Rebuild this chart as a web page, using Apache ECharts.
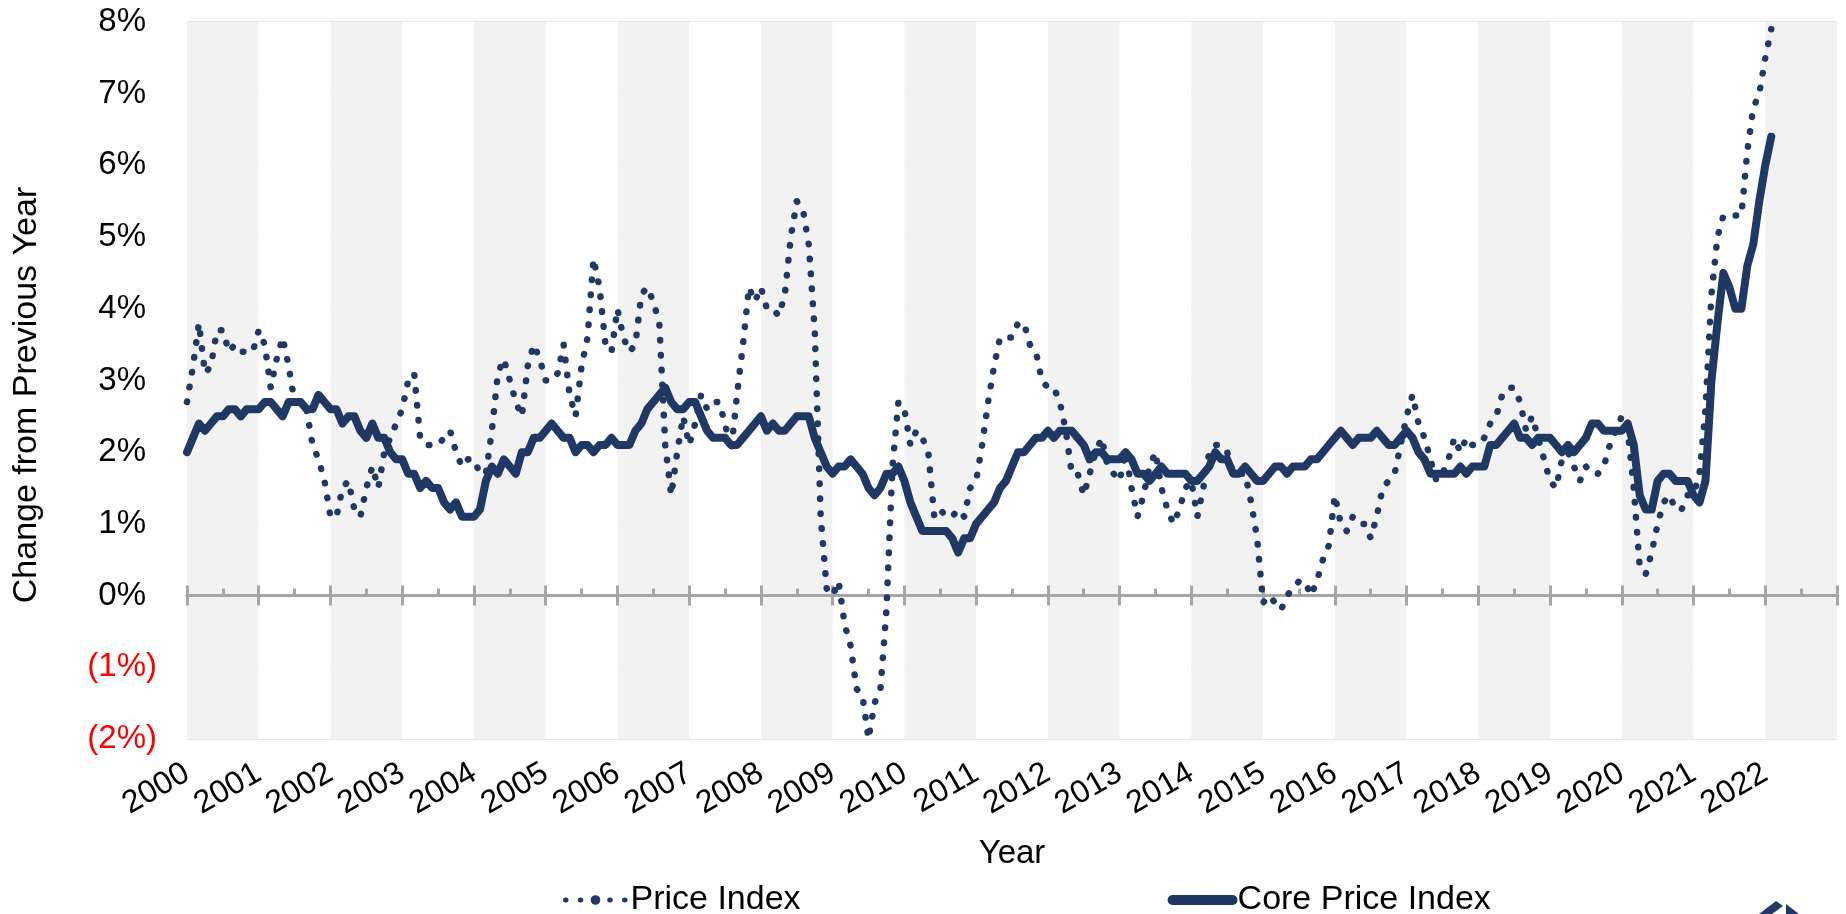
<!DOCTYPE html>
<html>
<head>
<meta charset="utf-8">
<title>Price Index vs Core Price Index</title>
<script src="https://cdn.jsdelivr.net/npm/echarts@6/dist/echarts.min.js"></script>
<style>
  html, body { margin: 0; padding: 0; background: #fff; }
  #chart { width: 1846px; height: 914px; }
</style>
</head>
<body>
<div id="chart"></div>
<script>
// monthly, Jan 2000 .. Feb 2022, % change from previous year
const startYear = 2000
const yearTicks = [2000, 2023]
const yTicks = [-2, 8]

const priceIndex = [
  2.7, 3.2, 3.8, 3.1, 3.2, 3.7, 3.7, 3.4, 3.5, 3.4, 3.4, 3.4, // 2000
  3.7, 3.5, 2.9, 3.3, 3.6, 3.2, 2.7, 2.7, 2.6, 2.1, 1.9, 1.6, // 2001
  1.1, 1.1, 1.5, 1.6, 1.2, 1.1, 1.5, 1.8, 1.5, 2.0, 2.2, 2.4, // 2002
  2.6, 3.0, 3.1, 2.2, 2.1, 2.1, 2.1, 2.2, 2.3, 2.0, 1.8, 1.9, // 2003
  1.9, 1.7, 1.7, 2.3, 3.1, 3.3, 3.0, 2.7, 2.5, 3.2, 3.5, 3.3, // 2004
  3.0, 3.0, 3.1, 3.5, 2.8, 2.5, 3.2, 3.6, 4.7, 4.3, 3.5, 3.4, // 2005
  4.0, 3.6, 3.4, 3.5, 4.2, 4.3, 4.1, 3.8, 2.1, 1.4, 2.0, 2.5, // 2006
  2.1, 2.4, 2.8, 2.6, 2.7, 2.7, 2.4, 2.0, 2.8, 3.5, 4.3, 4.1, // 2007
  4.3, 4.0, 4.0, 3.9, 4.2, 5.0, 5.5, 5.4, 4.9, 3.7, 1.1, 0.1, // 2008
  0.0, 0.2, -0.4, -0.7, -1.3, -1.4, -2.0, -1.5, -1.3, -0.2, 1.8, 2.7, // 2009
  2.6, 2.1, 2.3, 2.2, 2.0, 1.1, 1.2, 1.1, 1.1, 1.2, 1.1, 1.5, // 2010
  1.6, 2.1, 2.7, 3.2, 3.6, 3.6, 3.6, 3.8, 3.8, 3.5, 3.4, 3.0, // 2011
  2.9, 2.9, 2.7, 2.3, 1.7, 1.7, 1.4, 1.7, 2.0, 2.2, 1.8, 1.7, // 2012
  1.6, 2.0, 1.5, 1.1, 1.4, 1.8, 2.0, 1.5, 1.2, 1.0, 1.2, 1.5, // 2013
  1.6, 1.1, 1.5, 2.0, 2.1, 2.1, 2.0, 1.7, 1.7, 1.7, 1.3, 0.8, // 2014
  -0.1, 0.0, -0.1, -0.2, 0.0, 0.1, 0.2, 0.2, 0.0, 0.2, 0.5, 0.7, // 2015
  1.4, 1.0, 0.9, 1.1, 1.0, 1.0, 0.8, 1.1, 1.5, 1.6, 1.7, 2.1, // 2016
  2.5, 2.8, 2.4, 2.2, 1.9, 1.6, 1.7, 1.9, 2.2, 2.0, 2.2, 2.1, // 2017
  2.1, 2.2, 2.4, 2.5, 2.8, 2.9, 2.9, 2.7, 2.3, 2.5, 2.2, 1.9, // 2018
  1.6, 1.5, 1.9, 2.0, 1.8, 1.6, 1.8, 1.7, 1.7, 1.8, 2.1, 2.3, // 2019
  2.5, 2.3, 1.5, 0.4, 0.3, 0.6, 1.0, 1.3, 1.4, 1.2, 1.2, 1.4, // 2020
  1.4, 1.7, 2.6, 4.2, 5.0, 5.3, 5.3, 5.3, 5.3, 6.2, 6.8, 7.0, // 2021
  7.5, 7.9 // 2022
]

const corePriceIndex = [
  2.0, 2.2, 2.4, 2.3, 2.4, 2.5, 2.5, 2.6, 2.6, 2.5, 2.6, 2.6, // 2000
  2.6, 2.7, 2.7, 2.6, 2.5, 2.7, 2.7, 2.7, 2.6, 2.6, 2.8, 2.7, // 2001
  2.6, 2.6, 2.4, 2.5, 2.5, 2.3, 2.2, 2.4, 2.2, 2.2, 2.0, 1.9, // 2002
  1.9, 1.7, 1.7, 1.5, 1.6, 1.5, 1.5, 1.3, 1.2, 1.3, 1.1, 1.1, // 2003
  1.1, 1.2, 1.6, 1.8, 1.7, 1.9, 1.8, 1.7, 2.0, 2.0, 2.2, 2.2, // 2004
  2.3, 2.4, 2.3, 2.2, 2.2, 2.0, 2.1, 2.1, 2.0, 2.1, 2.1, 2.2, // 2005
  2.1, 2.1, 2.1, 2.3, 2.4, 2.6, 2.7, 2.8, 2.9, 2.7, 2.6, 2.6, // 2006
  2.7, 2.7, 2.5, 2.3, 2.2, 2.2, 2.2, 2.1, 2.1, 2.2, 2.3, 2.4, // 2007
  2.5, 2.3, 2.4, 2.3, 2.3, 2.4, 2.5, 2.5, 2.5, 2.2, 2.0, 1.8, // 2008
  1.7, 1.8, 1.8, 1.9, 1.8, 1.7, 1.5, 1.4, 1.5, 1.7, 1.7, 1.8, // 2009
  1.6, 1.3, 1.1, 0.9, 0.9, 0.9, 0.9, 0.9, 0.8, 0.6, 0.8, 0.8, // 2010
  1.0, 1.1, 1.2, 1.3, 1.5, 1.6, 1.8, 2.0, 2.0, 2.1, 2.2, 2.2, // 2011
  2.3, 2.2, 2.3, 2.3, 2.3, 2.2, 2.1, 1.9, 2.0, 2.0, 1.9, 1.9, // 2012
  1.9, 2.0, 1.9, 1.7, 1.7, 1.6, 1.7, 1.8, 1.7, 1.7, 1.7, 1.7, // 2013
  1.6, 1.6, 1.7, 1.8, 2.0, 1.9, 1.9, 1.7, 1.7, 1.8, 1.7, 1.6, // 2014
  1.6, 1.7, 1.8, 1.8, 1.7, 1.8, 1.8, 1.8, 1.9, 1.9, 2.0, 2.1, // 2015
  2.2, 2.3, 2.2, 2.1, 2.2, 2.2, 2.2, 2.3, 2.2, 2.1, 2.1, 2.2, // 2016
  2.3, 2.2, 2.0, 1.9, 1.7, 1.7, 1.7, 1.7, 1.7, 1.8, 1.7, 1.8, // 2017
  1.8, 1.8, 2.1, 2.1, 2.2, 2.3, 2.4, 2.2, 2.2, 2.1, 2.2, 2.2, // 2018
  2.2, 2.1, 2.0, 2.1, 2.0, 2.1, 2.2, 2.4, 2.4, 2.3, 2.3, 2.3, // 2019
  2.3, 2.4, 2.1, 1.4, 1.2, 1.2, 1.6, 1.7, 1.7, 1.6, 1.6, 1.6, // 2020
  1.4, 1.3, 1.6, 3.0, 3.8, 4.5, 4.3, 4.0, 4.0, 4.6, 4.9, 5.5, // 2021
  6.0, 6.4 // 2022
]

const toPoints = (arr) => arr.map((v, i) => [startYear + i / 12, v])

const navy = '#1F3864'
const axisGray = '#A6A6A6'
const font = 'Arial, "Liberation Sans", sans-serif'

const myChart = echarts.init(document.getElementById('chart'))

// axis drawn along the 0% line (ticks only, no labels)
const zeroAxisBase = {
  type: 'value',
  min: yearTicks[0],
  max: yearTicks[1],
  interval: 1,
  position: 'bottom',
  axisLine: {
    show: true,
    onZero: true,
    onZeroAxisIndex: 0,
    lineStyle: { color: axisGray, width: 3 }
  },
  axisLabel: { show: false },
  splitLine: { show: false }
}

const option = {
  animation: false,
  backgroundColor: '#fff',
  grid: {
    left: 187,
    right: 9,
    top: 22,
    bottom: 175
  },
  legend: {
    left: 558,
    top: 878,
    itemGap: 367,
    itemWidth: 60,
    itemHeight: 12,
    textStyle: { fontSize: 34, color: '#000', fontFamily: font },
    data: [
      { name: 'Price Index', lineStyle: { width: 5, type: [0.5, 14.25], cap: 'round' } },
      { name: 'Core Price Index', lineStyle: { width: 10, cap: 'round' } }
    ]
  },
  xAxis: [
    {
      // labels + year bands
      type: 'value',
      min: yearTicks[0],
      max: yearTicks[1],
      interval: 1,
      position: 'bottom',
      name: 'Year',
      nameLocation: 'middle',
      nameGap: 98,
      nameTextStyle: { fontSize: 33, color: '#000', fontFamily: font },
      axisLine: { show: false, onZero: false },
      axisTick: { show: false },
      axisLabel: {
        rotate: 30,
        margin: 32,
        fontSize: 32,
        color: '#000',
        fontFamily: font,
        showMaxLabel: false,
        formatter: (v) => (v >= yearTicks[1] ? '' : String(v))
      },
      splitLine: { show: false },
      splitArea: {
        show: true,
        areaStyle: { color: ['#F2F2F2', '#FFFFFF'] }
      }
    },
    Object.assign({}, zeroAxisBase, {
      // ticks above the zero line, plus half-year minor ticks
      axisTick: { show: true, inside: true, length: 10, lineStyle: { color: axisGray, width: 3 } },
      minorTick: { show: true, splitNumber: 2, length: 7, lineStyle: { color: axisGray, width: 3 } }
    }),
    Object.assign({}, zeroAxisBase, {
      // ticks below the zero line
      axisTick: { show: true, inside: false, length: 10, lineStyle: { color: axisGray, width: 3 } }
    })
  ],
  yAxis: {
    type: 'value',
    min: yTicks[0],
    max: yTicks[1],
    interval: 1,
    name: 'Change from Previous Year',
    nameLocation: 'middle',
    nameGap: 143,
    nameTextStyle: { fontSize: 34, color: '#000', fontFamily: font, padding: [0, 29, 0, 0] },
    axisLine: { show: false },
    axisTick: { show: false },
    axisLabel: {
      margin: 30,
      formatter: (v) => (v < 0 ? '{n|(' + (-v) + '%)}' : '{p|' + v + '%}'),
      rich: {
        p: { fontSize: 33, color: '#000', fontFamily: font, padding: [0, 11, 0, 0] },
        n: { fontSize: 33, color: '#FF0000', fontFamily: font }
      }
    },
    splitLine: { show: true, lineStyle: { color: '#E6E6E6', width: 2 } }
  },
  graphic: [
    {
      type: 'polygon',
      shape: { points: [[1759, 914], [1776, 901], [1783, 906], [1772, 914]] },
      style: { fill: navy }
    },
    {
      type: 'polygon',
      shape: { points: [[1786, 904], [1799, 914], [1786, 914]] },
      style: { fill: navy }
    }
  ],
  series: [
    {
      name: 'Price Index',
      type: 'line',
      xAxisIndex: 0,
      symbol: 'none',
      clip: true,
      data: toPoints(priceIndex),
      lineStyle: { color: navy, width: 6.5, type: [0.5, 14.5], cap: 'round', join: 'round' },
      itemStyle: { color: navy }
    },
    {
      name: 'Core Price Index',
      type: 'line',
      xAxisIndex: 0,
      symbol: 'none',
      clip: true,
      data: toPoints(corePriceIndex),
      lineStyle: { color: navy, width: 8, cap: 'round', join: 'round' },
      itemStyle: { color: navy }
    }
  ]
}

myChart.setOption(option)
window.onresize = () => {
  myChart.resize()
}
</script>
</body>
</html>
